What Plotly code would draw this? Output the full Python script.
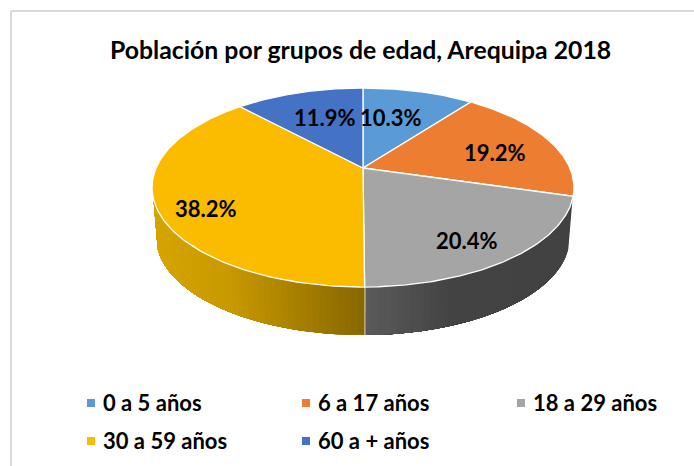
import numpy as np
import plotly.graph_objects as go

title = "Población por grupos de edad, Arequipa 2018"
categories = ["0 a 5 años", "6 a 17 años", "18 a 29 años", "30 a 59 años", "60 a + años"]
values = [10.3, 19.2, 20.4, 38.2, 11.9]
colors = ["#5B9BD5", "#ED7D31", "#A5A5A5", "#FBBC00", "#4472C4"]

FONT = "Lato, Carlito, Calibri, sans-serif"
W, H = 694, 466
CX, CY = 363.0, 168.0        # apex of the pie on the page
A, B, K = 206.9, 95.7, 0.196  # projection of the disc
DROP, SHRINK = 50.4, 0.98    # bottom rim of the disc
VIS = (108.0, 252.0)         # visible rim, degrees clockwise from top
SIDE_STOPS = {2: [(363, (92, 92, 92)), (450, (68, 68, 68)), (575, (66, 66, 66))],
              3: [(155, (214, 165, 0)), (230, (200, 153, 0)), (363, (136, 104, 0))]}


def top(t):
    u, v = np.sin(np.radians(t)), np.cos(np.radians(t))
    d = 1 + K * v
    return CX + A * u / d, CY - B * v / d


def bottom(t):
    u, v = np.sin(np.radians(t)), np.cos(np.radians(t))
    d = 1 + K * v
    return CX + SHRINK * A * u / d, CY + DROP - SHRINK * B * v / d


def side_colour(i, x):
    st = SIDE_STOPS[i]
    xs = [s[0] for s in st]
    rgb = [int(np.interp(x, xs, [s[1][c] for s in st])) for c in range(3)]
    return "rgb(%d,%d,%d)" % tuple(rgb)


fig = go.Figure()
ends = np.cumsum(values) / sum(values) * 360
starts = np.concatenate([[0], ends[:-1]])

# rim of the disc: each strip runs on to the far end of the slice,
# so the next one covers it and no seams show
for i, (s, e) in enumerate(zip(starts, ends)):
    lo, hi = max(s, VIS[0]), min(e, VIS[1])
    if hi <= lo:
        continue
    edges = np.linspace(lo, hi, int((hi - lo) / 1.5) + 2)
    for t0, t1 in zip(edges[:-1], edges[1:]):
        xc, _ = top((t0 + t1) / 2)
        ts = np.linspace(t0, hi, 30)
        xt, yt = top(ts)
        xb, yb = bottom(ts[::-1])
        c = side_colour(i, float(xc))
        fig.add_trace(go.Scatter(
            x=np.r_[xt, xb, xt[0]], y=np.r_[yt, yb, yt[0]], mode="lines",
            fill="toself", fillcolor=c, line=dict(width=0),
            hoverinfo="skip", showlegend=False))
    # white seam at the slice boundary
    if VIS[0] < e < VIS[1]:
        xt, yt = top(e)
        xb, yb = bottom(e)
        fig.add_trace(go.Scatter(x=[xt, xb], y=[yt, yb], mode="lines",
                                 line=dict(color="white", width=1.5),
                                 hoverinfo="skip", showlegend=False))

# top face
for i, (s, e) in enumerate(zip(starts, ends)):
    ts = np.linspace(s, e, 120)
    xa, ya = top(ts)
    fig.add_trace(go.Scatter(
        x=np.r_[CX, xa, CX], y=np.r_[CY, ya, CY], mode="lines", fill="toself",
        fillcolor=colors[i], line=dict(color="white", width=1.3),
        name=categories[i], hoverinfo="name", showlegend=False))

label_pos = [(391, 117), (495, 152), (467, 240), (206, 208), (325, 117)]
ann = []
for v, (x, y) in zip(values, label_pos):
    ann.append(dict(x=x, y=y, text="<b>%.1f%%</b>" % v, showarrow=False,
                    font=dict(family=FONT, size=22, color="black"),
                    xanchor="center", yanchor="middle"))

ann.append(dict(x=360.5, y=49, text="<b>%s</b>" % title, showarrow=False,
                font=dict(family=FONT, size=24.8, color="black"),
                xanchor="center", yanchor="middle"))

# legend, laid out in three columns as in the reference
legend_pos = [(91, 403), (306, 403), (521, 403), (91, 441), (306, 441)]
for name, col, (x, y) in zip(categories, colors, legend_pos):
    fig.add_trace(go.Scatter(x=[x], y=[y], mode="markers",
                             marker=dict(symbol="square", size=8, color=col),
                             hoverinfo="skip", showlegend=False))
    ann.append(dict(x=x + 10, y=y - 1, text="<b>%s</b>" % name, showarrow=False,
                    font=dict(family=FONT, size=22, color="black"),
                    xanchor="left", yanchor="middle"))

shapes = [dict(type="line", x0=11, x1=W, y0=11, y1=11, line=dict(color="#D9D9D9", width=2)),
          dict(type="line", x0=11, x1=11, y0=11, y1=H, line=dict(color="#D9D9D9", width=2))]

fig.update_layout(
    width=W, height=H, margin=dict(l=0, r=0, t=0, b=0),
    paper_bgcolor="white", plot_bgcolor="white", showlegend=False,
    xaxis=dict(range=[0, W], visible=False, fixedrange=True),
    yaxis=dict(range=[H, 0], visible=False, fixedrange=True),
    annotations=ann, shapes=shapes,
)
fig.write_html("out.html", post_script="document.body.style.margin='0';",
               config=dict(displayModeBar=False))
